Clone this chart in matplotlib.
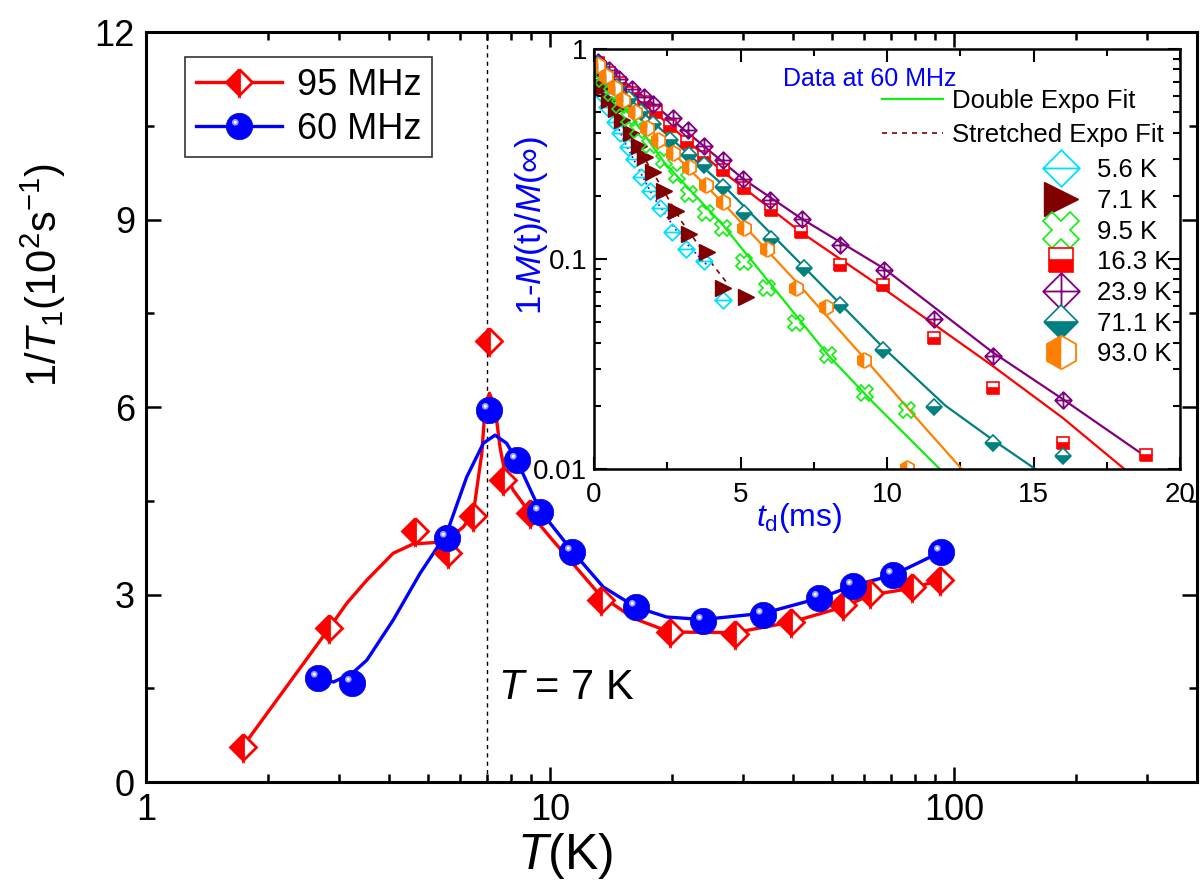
import matplotlib
matplotlib.use('Agg')
import numpy as np
import matplotlib.pyplot as plt
from matplotlib.path import Path
from matplotlib.markers import MarkerStyle
from matplotlib.ticker import MultipleLocator, LogLocator, NullFormatter
from matplotlib.legend_handler import HandlerTuple
from matplotlib import font_manager

# ---- main panel: 1/T1 vs T ----
red_T = [1.735, 2.84, 4.62, 5.6, 6.46, 7.08, 7.66, 8.93, 13.4, 19.8, 28.7, 39.6, 53.1, 62.0, 78.6, 92.3]
red_y = [0.565, 2.46, 4.02, 3.66, 4.25, 7.06, 4.83, 4.3, 2.91, 2.4, 2.37, 2.56, 2.83, 3.02, 3.12, 3.23]
blue_T = [2.67, 3.24, 5.55, 7.08, 8.27, 9.44, 11.34, 16.3, 23.9, 33.7, 46.3, 56.2, 70.6, 92.7]
blue_y = [1.66, 1.58, 3.9, 5.96, 5.15, 4.32, 3.68, 2.8, 2.58, 2.67, 2.94, 3.14, 3.31, 3.68]

# guide-to-eye curves
red_fit_T = [1.735, 2.84, 3.14, 3.52, 4.09, 4.59, 5.14, 5.55, 6.10, 6.46, 6.78, 6.91, 7.08, 7.31,
             7.52, 7.74, 8.11, 8.93, 10.0, 11.2, 13.3, 16.1, 19.8, 28.7, 39.6, 53.2, 62.0, 78.6, 92.3]
red_fit_y = [0.565, 2.46, 2.86, 3.23, 3.66, 3.81, 3.83, 3.87, 4.08, 4.30, 5.26, 6.0, 6.22, 6.0,
             5.36, 4.94, 4.67, 4.3, 3.92, 3.55, 2.99, 2.62, 2.40, 2.39, 2.56, 2.8, 2.99, 3.10, 3.23]
blue_fit_T = [2.67, 2.91, 3.24, 3.52, 4.09, 4.77, 5.55, 6.22, 6.84, 7.31, 7.81, 8.27, 9.44, 11.3,
              13.55, 16.3, 19.45, 23.9, 33.8, 46.3, 56.2, 70.6, 92.7]
blue_fit_y = [1.66, 1.60, 1.74, 1.95, 2.59, 3.34, 3.98, 4.88, 5.42, 5.55, 5.42, 5.15, 4.35, 3.71,
              3.12, 2.8, 2.64, 2.6, 2.70, 2.94, 3.14, 3.31, 3.68]

# ---- inset: recovery at 60 MHz ----
t56 = [0.1, 0.25, 0.45, 0.7, 0.9, 1.15, 1.35, 1.6, 1.9, 2.25, 2.65, 3.15, 3.75, 4.4]
m56 = [0.75, 0.62, 0.53, 0.45, 0.40, 0.34, 0.30, 0.245, 0.21, 0.175, 0.135, 0.112, 0.098, 0.064]
t71 = [0.1, 0.3, 0.5, 0.75, 0.95, 1.25, 1.55, 1.75, 2.0, 2.4, 2.8, 3.25, 3.85, 4.4, 5.2]
m71 = [0.78, 0.66, 0.57, 0.52, 0.46, 0.40, 0.345, 0.305, 0.26, 0.21, 0.17, 0.132, 0.108, 0.073, 0.066]
t95 = [0.1, 0.3, 0.6, 0.9, 1.2, 1.5, 1.9, 2.38, 2.84, 3.23, 3.82, 4.41, 5.12, 5.91, 6.89, 8.0, 9.24, 10.68]
m95 = [0.82, 0.72, 0.62, 0.54, 0.47, 0.41, 0.35, 0.296, 0.251, 0.205, 0.165, 0.14, 0.097, 0.0725,
       0.0494, 0.0349, 0.0229, 0.0191]
t163 = [0.15, 0.5, 0.9, 1.3, 1.7, 2.1, 2.6, 3.16, 3.75, 4.41, 5.12, 6.04, 7.08, 8.39, 9.86, 11.6, 13.6, 16.0, 18.85]
m163 = [0.86, 0.77, 0.69, 0.62, 0.56, 0.5, 0.43, 0.362, 0.307, 0.265, 0.217, 0.171, 0.135, 0.0936,
        0.0752, 0.0419, 0.0242, 0.0133, 0.0117]
t239 = [0.15, 0.5, 0.85, 1.3, 1.7, 2.0, 2.7, 3.2, 3.75, 4.4, 5.1, 6.0, 7.1, 8.4, 9.9, 11.6, 13.6, 16.0]
m239 = [0.87, 0.79, 0.72, 0.645, 0.59, 0.55, 0.47, 0.41, 0.345, 0.295, 0.24, 0.19, 0.155, 0.117,
        0.089, 0.052, 0.0347, 0.0214]
t711 = [0.15, 0.45, 0.8, 1.2, 1.6, 2.0, 2.6, 3.23, 3.75, 4.41, 5.12, 6.04, 7.15, 8.39, 9.86, 11.6, 13.6, 16.0]
m711 = [0.85, 0.75, 0.66, 0.58, 0.5, 0.44, 0.37, 0.313, 0.28, 0.221, 0.165, 0.125, 0.0903, 0.0604,
        0.0369, 0.0198, 0.0133, 0.0115]
t930 = [0.15, 0.4, 0.7, 1.0, 1.4, 1.8, 2.2, 2.7, 3.23, 3.82, 4.41, 5.12, 5.91, 6.89, 7.93, 9.2, 10.68]
m930 = [0.84, 0.74, 0.65, 0.57, 0.5, 0.42, 0.37, 0.32, 0.275, 0.225, 0.187, 0.140, 0.112, 0.0725,
        0.0593, 0.033, 0.0101]

# fit curves in the inset
f95_t = [0, 1, 2.4, 4.4, 6.9, 8, 9.5, 11.8]
f95_m = [0.85, 0.537, 0.288, 0.145, 0.0537, 0.0347, 0.0209, 0.01]
f163_t = [0, 2, 4.4, 7.1, 9.9, 13.6, 16, 18.1]
f163_m = [0.88, 0.51, 0.26, 0.133, 0.072, 0.031, 0.0175, 0.010]
f239_t = [0, 2, 5.1, 7.1, 9.9, 13.6, 16.0, 18.7]
f239_m = [0.90, 0.55, 0.24, 0.155, 0.09, 0.036, 0.0215, 0.0118]
f711_t = [0, 2, 4.4, 7.15, 9.86, 12, 13.6, 15.06]
f711_m = [0.87, 0.45, 0.225, 0.092, 0.038, 0.02, 0.0138, 0.010]
f930_t = [0, 2, 4.4, 6.9, 9.2, 11, 12.55]
f930_m = [0.86, 0.40, 0.185, 0.078, 0.034, 0.0175, 0.010]
f71_t = [0, 1, 2, 3, 4.1, 4.6]
f71_m = [0.85, 0.44, 0.26, 0.15, 0.092, 0.075]
f56_t = [0, 1, 2, 3, 3.9]
f56_m = [0.8, 0.37, 0.2, 0.125, 0.092]

plt.rcParams['font.family'] = ['Liberation Sans', 'DejaVu Sans']
plt.rcParams['mathtext.fontset'] = 'custom'
plt.rcParams['mathtext.rm'] = 'Liberation Sans'
plt.rcParams['mathtext.it'] = 'Liberation Sans:italic'
try:
    font_manager.findfont('Liberation Sans Narrow', fallback_to_default=False)
    narrow = 'Liberation Sans Narrow'
except ValueError:
    narrow = 'Liberation Sans'

M, L, C = Path.MOVETO, Path.LINETO, Path.CLOSEPOLY
dia_h = Path([(0, 1), (1, 0), (0, -1), (-1, 0), (0, 1), (-1, 0), (1, 0)], [M, L, L, L, C, M, L])
dia_p = Path([(0, 1), (1, 0), (0, -1), (-1, 0), (0, 1), (-1, 0), (1, 0), (0, 1), (0, -1)],
             [M, L, L, L, C, M, L, M, L])
pad = Path([(1, 1), (-1, -1)], [M, M])
hl1 = Path.make_compound_path(Path.circle((-0.32, 0.32), 0.25), pad)
hl2 = Path.make_compound_path(Path.circle((-0.32, 0.32), 0.11), pad)

fig = plt.figure(figsize=(12.03, 8.92), dpi=100)
ax = fig.add_axes([0.1214, 0.1233, 0.8737, 0.8408])

l_red, = ax.plot(red_fit_T, red_fit_y, '-', color='#ff0000', lw=2.4, zorder=2)
l_blue, = ax.plot(blue_fit_T, blue_fit_y, '-', color='#0000ff', lw=2.4, zorder=3)
m_red, = ax.plot(red_T, red_y, ls='none', marker='D', ms=13.5, fillstyle='left', mfc='#ff0000',
                 mfcalt='white', mec='#ff0000', mew=2, zorder=4)
m_blue, = ax.plot(blue_T, blue_y, ls='none', marker='o', ms=19, mfc='#0000ff', mec='#0000e0',
                  mew=0.5, zorder=5)
m_h1, = ax.plot(blue_T, blue_y, ls='none', marker=MarkerStyle(hl1), ms=19, mfc='#a0a0ff',
                mec='none', zorder=6)
m_h2, = ax.plot(blue_T, blue_y, ls='none', marker=MarkerStyle(hl2), ms=19, mfc='white',
                mec='none', zorder=7)
ax.axvline(7.0, color='black', ls=(0, (3, 3)), lw=1, zorder=1)
ax.text(7.45, 1.5, '$\\mathit{T}$ = 7 K', fontsize=30, va='center', ha='left')

ax.set_xscale('log')
ax.set_xlim(1, 400)
ax.set_ylim(0, 12)
ax.set_xticks([1, 10, 100])
ax.set_xticklabels(['1', '10', '100'], family=narrow, fontsize=28)
ax.xaxis.set_minor_locator(LogLocator(subs=range(2, 10)))
ax.xaxis.set_minor_formatter(NullFormatter())
ax.set_yticks([0, 3, 6, 9, 12])
ax.yaxis.set_minor_locator(MultipleLocator(1.5))
ax.tick_params(which='both', direction='in', top=True, right=True, width=1.8)
ax.tick_params(which='major', length=11, labelsize=26, pad=8)
ax.tick_params(which='minor', length=6)
for s in ax.spines.values():
    s.set_linewidth(2.2)
ax.set_xlabel('$\\mathit{T}$(K)', fontsize=36, family=narrow)
ax.xaxis.set_label_coords(0.399, -0.065)
ax.set_ylabel('1/$\\mathit{T}_1$(10$^2$s$^{-1}$)', fontsize=30)
ax.yaxis.set_label_coords(-0.074, 0.676)

leg = ax.legend([(l_red, m_red), (l_blue, m_blue, m_h1, m_h2)], ['95 MHz', '60 MHz'],
                handler_map={tuple: HandlerTuple(ndivide=1)}, loc='upper left',
                bbox_to_anchor=(0.037, 0.967), borderaxespad=0, fontsize=26, handlelength=2.4,
                handletextpad=0.4, labelspacing=0.25, borderpad=0.3, fancybox=False)
leg.get_frame().set_edgecolor('black')
leg.get_frame().set_linewidth(1.2)

# ---- inset ----
axi = fig.add_axes([0.4938, 0.4742, 0.4871, 0.4709])
c56, c71, c95, c163, c239, c711, c930 = '#00e0ff', '#800000', '#11ee11', '#ff0000', '#800080', '#008080', '#ff8000'

lg_double, = axi.plot(f95_t, f95_m, '-', color=c95, lw=1.6)
axi.plot(f163_t, f163_m, '-', color=c163, lw=1.6)
axi.plot(f239_t, f239_m, '-', color=c239, lw=1.6)
axi.plot(f711_t, f711_m, '-', color=c711, lw=1.6)
axi.plot(f930_t, f930_m, '-', color=c930, lw=1.6)
lg_str, = axi.plot(f71_t, f71_m, ls=(0, (3, 3)), color=c71, lw=1.2)
axi.plot(f56_t, f56_m, ls=(0, (1, 2)), color='#0000ff', lw=1.2)

h56, = axi.plot(t56, m56, ls='none', marker=MarkerStyle(dia_h), ms=12, mfc='none', mec=c56, mew=1.3)
h71, = axi.plot(t71, m71, ls='none', marker='>', ms=11, mfc=c71, mec=c71)
h95, = axi.plot(t95, m95, ls='none', marker='X', ms=12, mfc='none', mec=c95, mew=1.2)
h163, = axi.plot(t163, m163, ls='none', marker='s', ms=8, fillstyle='bottom', mfc=c163,
                 mfcalt='white', mec=c163, mew=1.2)
h239, = axi.plot(t239, m239, ls='none', marker=MarkerStyle(dia_p), ms=12, mfc='none', mec=c239, mew=1.3)
h711, = axi.plot(t711, m711, ls='none', marker='D', ms=8, fillstyle='bottom', mfc=c711,
                 mfcalt='white', mec=c711, mew=1.2)
h930, = axi.plot(t930, m930, ls='none', marker='h', ms=11, fillstyle='left', mfc=c930,
                 mfcalt='white', mec=c930, mew=1.3)

axi.set_yscale('log')
axi.set_xlim(0, 20)
axi.set_ylim(0.01, 1)
axi.set_xticks([0, 5, 10, 15, 20])
axi.xaxis.set_minor_locator(MultipleLocator(2.5))
axi.set_yticks([0.01, 0.1, 1])
axi.set_yticklabels(['0.01', '0.1', '1'])
axi.yaxis.set_minor_locator(LogLocator(subs=range(2, 10)))
axi.yaxis.set_minor_formatter(NullFormatter())
axi.tick_params(which='both', direction='in', top=True, right=True, width=1.5)
axi.tick_params(which='major', length=9, labelsize=20, pad=5)
axi.tick_params(axis='x', which='major', pad=9)
axi.tick_params(which='minor', length=5)
for s in axi.spines.values():
    s.set_linewidth(1.8)
axi.set_xlabel('$\\mathit{t}_\\mathrm{d}$(ms)', fontsize=23, color='#0000ff')
axi.xaxis.set_label_coords(0.35, -0.075)
axi.set_ylabel('1-$\\mathit{M}$(t)/$\\mathit{M}$(∞)', fontsize=25, color='#0000ff',
               family=['Liberation Sans', 'DejaVu Sans'])
axi.yaxis.set_label_coords(-0.075, 0.58)

axi.text(0.47, 0.928, 'Data at 60 MHz', transform=axi.transAxes, fontsize=18, color='#0000ff',
         ha='center', va='center')
leg1 = axi.legend([lg_double, lg_str], ['Double Expo Fit', 'Stretched Expo Fit'], loc='upper left',
                  bbox_to_anchor=(0.491, 0.905), borderaxespad=0, borderpad=0, frameon=False,
                  fontsize=18.5, handlelength=2.4, handletextpad=0.35, labelspacing=0.4)
axi.add_artist(leg1)
axi.legend([h56, h71, h95, h163, h239, h711, h930],
           ['5.6 K', '7.1 K', '9.5 K', '16.3 K', '23.9 K', '71.1 K', '93.0 K'],
           loc='upper left', bbox_to_anchor=(0.771, 0.74), borderaxespad=0, borderpad=0,
           frameon=False, fontsize=18.5, handlelength=1.2, handletextpad=0.8, labelspacing=0.26,
           markerscale=2.2, numpoints=1)

fig.savefig('out.png', dpi=100)
